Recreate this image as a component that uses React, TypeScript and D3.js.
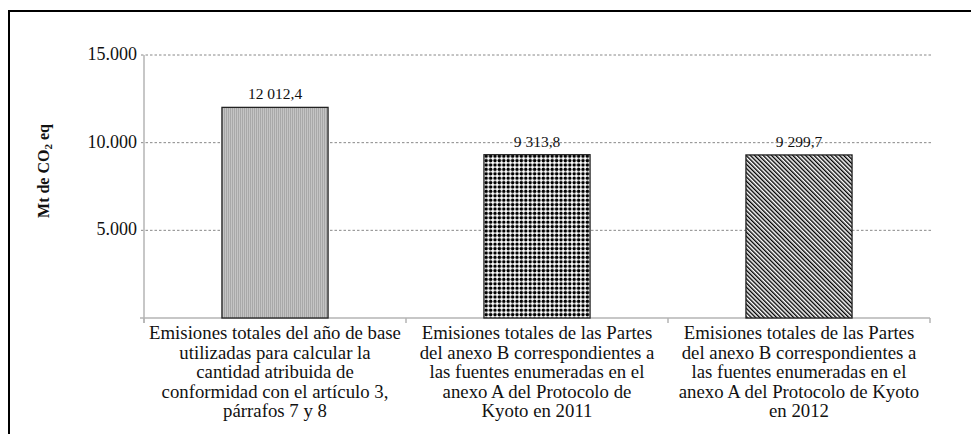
import React from "react";
import * as d3 from "d3";

const width = 971,
  height = 434;
const margin = { top: 55, right: 41, bottom: 116, left: 144 };

// data
const categories = ["base", "2011", "2012"];
const values = [12012.4, 9313.8, 9299.7];
const categoryLines = [
  [
    "Emisiones totales del año de base",
    "utilizadas para calcular la",
    "cantidad atribuida de",
    "conformidad con el artículo 3,",
    "párrafos 7 y 8",
  ],
  [
    "Emisiones totales de las Partes",
    "del anexo B correspondientes a",
    "las fuentes enumeradas en el",
    "anexo A del Protocolo de",
    "Kyoto en 2011",
  ],
  [
    "Emisiones totales de las Partes",
    "del anexo B correspondientes a",
    "las fuentes enumeradas en el",
    "anexo A del Protocolo de Kyoto",
    "en 2012",
  ],
];
const yTicks = [5000, 10000, 15000];
const patterns = ["pGray", "pDots", "pDiag"];

const font = '"Liberation Serif", serif';

const tickFmt = d3
  .formatLocale({ decimal: ",", thousands: ".", grouping: [3], currency: ["", ""] })
  .format(",d");
const valueFmt = d3
  .formatLocale({ decimal: ",", thousands: "\u00a0", grouping: [3], currency: ["", ""] })
  .format(",.1f");

export default function App() {
  const x = d3
    .scaleBand<string>()
    .domain(categories)
    .range([margin.left, width - margin.right])
    .paddingInner(0.595)
    .paddingOuter(0.2975);
  const y = d3
    .scaleLinear()
    .domain([0, 15000])
    .range([height - margin.bottom, margin.top]);

  const step = x.step();
  const bandStart = (c: string) => (x(c) as number) - (step * x.paddingInner()) / 2;
  const catTicks = categories.map(bandStart).concat([x.range()[1]]);
  const y0 = y(0);
  const txt = { fontFamily: font };

  return (
    <svg
      width={width}
      height={height}
      style={{ position: "absolute", left: 0, top: 0, background: "#fff", fontFamily: font }}
    >
      <defs>
        <pattern id="pGray" patternUnits="userSpaceOnUse" width={2} height={2}>
          <rect width={2} height={2} fill="#c4c4c4" />
          <rect width={1} height={2} fill="#a8a8a8" />
        </pattern>
        <pattern id="pDots" patternUnits="userSpaceOnUse" width={4.4} height={4.4}>
          <rect width={4.4} height={4.4} fill="#fff" />
          <circle cx={2.2} cy={2.2} r={1.75} fill="#000" />
        </pattern>
        <pattern
          id="pDiag"
          patternUnits="userSpaceOnUse"
          width={3}
          height={3}
          patternTransform="rotate(-45)"
        >
          <rect width={3} height={3} fill="#fff" />
          <rect x={0} y={0} width={1.4} height={3} fill="#000" />
        </pattern>
      </defs>

      {/* outer frame, right and bottom edges fall outside the image */}
      <rect x={9} y={11} width={1000} height={500} fill="none" stroke="#000" strokeWidth={2} />

      {/* gridlines */}
      {yTicks.map((t) => (
        <g key={t}>
          <line
            x1={margin.left - 3}
            x2={width - margin.right + 2}
            y1={y(t)}
            y2={y(t)}
            stroke="#888"
            strokeWidth={1}
            strokeDasharray="2.5,2"
          />
          <text x={137} y={y(t)} dy="0.27em" textAnchor="end" fontSize={18} fill="#111" style={txt}>
            {tickFmt(t)}
          </text>
        </g>
      ))}

      {/* axes */}
      <line x1={margin.left} x2={margin.left} y1={y(15000)} y2={y0 + 5} stroke="#b5b5b5" strokeWidth={1.5} />
      <line x1={margin.left - 4} x2={x.range()[1]} y1={y0} y2={y0} stroke="#b5b5b5" strokeWidth={1.5} />
      {catTicks.map((t, i) => (
        <line key={i} x1={t} x2={t} y1={y0} y2={y0 + 5} stroke="#b5b5b5" strokeWidth={1.5} />
      ))}

      {/* bars */}
      {categories.map((c, i) => (
        <g key={c}>
          <rect
            x={x(c)}
            y={y(values[i])}
            width={x.bandwidth()}
            height={y0 - y(values[i])}
            fill={`url(#${patterns[i]})`}
            stroke="#222"
            strokeWidth={1.3}
          />
          <text
            x={(x(c) as number) + x.bandwidth() / 2}
            y={y(values[i]) - 8}
            textAnchor="middle"
            fontSize={15.5}
            fill="#111"
            style={txt}
          >
            {valueFmt(values[i])}
          </text>
          <text textAnchor="middle" fontSize={18.8} fill="#111" style={txt}>
            {categoryLines[i].map((l, j) => (
              <tspan key={j} x={(x(c) as number) + x.bandwidth() / 2} y={339 + j * 19.5}>
                {l}
              </tspan>
            ))}
          </text>
        </g>
      ))}

      {/* y axis title */}
      <text
        transform={`translate(49,${171}) rotate(-90)`}
        textAnchor="middle"
        fontSize={16}
        fontWeight="bold"
        fill="#111"
        style={txt}
      >
        Mt de CO
        <tspan fontSize={11} dy={3}>2</tspan>
        <tspan dy={-3}> eq</tspan>
      </text>
    </svg>
  );
}
